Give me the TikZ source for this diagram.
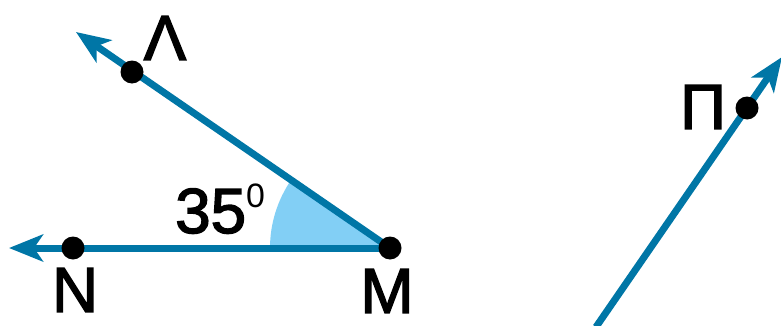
\documentclass[tikz,border=0pt]{standalone}
\usepackage{fontspec}
\newfontfamily\lblfont{Liberation Sans}[FakeBold=2.2]
\newfontfamily\supfont{Liberation Sans}
\usetikzlibrary{arrows.meta}
\definecolor{rayblue}{RGB}{0,118,166}
\definecolor{anglefill}{RGB}{130,207,245}
\tikzset{
  ray/.style={draw=rayblue, line width=7bp, -{Stealth[length=34bp,width=27bp,inset=9bp]}},
  dot/.style={circle, fill=black, inner sep=0pt, minimum size=23bp},
  lbl/.style={font=\fontsize{64}{64}\lblfont, inner sep=0pt},
}
\begin{document}
\begin{tikzpicture}[x=1bp,y=1bp]
\useasboundingbox (0,0) rectangle (781,325);
\coordinate (Mc) at (390,77);
\coordinate (Ntip) at (9,77);
\coordinate (Ltip) at (76,293);
\coordinate (Ptip) at (782,268);
\coordinate (Pbot) at (596,-2);
% angle fill
\fill[anglefill] (Mc) -- ++(180:120) arc[start angle=180, end angle=145.7, radius=120] -- cycle;
% rays
\draw[ray] (Mc) -- (Ntip);
\draw[ray] (Mc) -- (Ltip);
\draw[ray] (Pbot) -- (Ptip);
% dots
\node[dot] (M) at (Mc) {};
\node[dot] (N) at (73,77) {};
\node[dot] (L) at (132,253) {};
\node[dot] (P) at (747,217) {};
% labels
\node[lbl] (lL) at (165,287) {Λ};
\node[lbl] (lN) at (75,35) {N};
\node[lbl] (lM) at (387,34) {M};
\node[lbl] (lP) at (703,218) {Π};
\node[lbl, anchor=base west] (lA) at (175,92) {35\raisebox{26bp}{\fontsize{34}{34}\supfont 0}};
\end{tikzpicture}
\end{document}
